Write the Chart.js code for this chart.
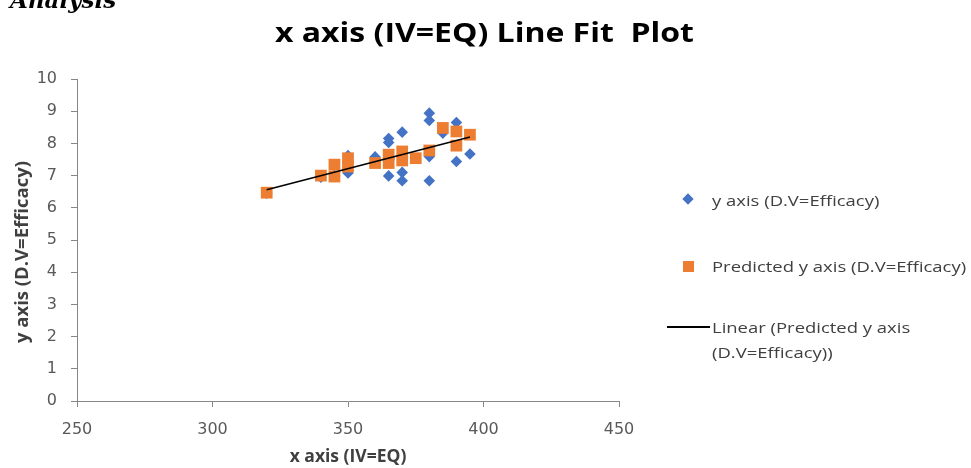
<!DOCTYPE html>
<html>
<head>
<meta charset="utf-8">
<script src="https://cdn.jsdelivr.net/npm/chart.js@4.4.1/dist/chart.umd.min.js"></script>
<style>
  body { margin: 0; background: #fff; }
  #page { position: relative; width: 971px; height: 468px; overflow: hidden; background: #fff; }
  #wrap { position: absolute; left: 0; top: 0; width: 971px; height: 468px; }
  .txt { position: absolute; white-space: nowrap; }
  #analysis { left: 10px; top: -12px; font: italic bold 23px/23px 'DejaVu Serif'; color: #000; }
  #title { left: 275px; top: 14px; font: bold 26px/36px 'Open Sans'; color: #000; transform: scaleX(1.23); transform-origin: left center; }
  .leg { font: 15px/20px 'Open Sans'; color: #404040; left: 712px; transform: scaleX(1.23); transform-origin: left center; }
  #diamond { position: absolute; left: 684px; top: 195px; width: 8px; height: 8px; background: #4472c4; transform: rotate(45deg); }
  #square { position: absolute; left: 683px; top: 261px; width: 11px; height: 11px; background: #ed7d31; }
  #lineSym { position: absolute; left: 667px; top: 326px; width: 43px; height: 1.5px; background: #000; }
</style>
</head>
<body>
<div id="page">
  <div id="wrap"><canvas id="chart"></canvas></div>
  <div class="txt" id="analysis">Analysis</div>
  <div class="txt" id="title">x axis (IV=EQ) Line Fit&nbsp; Plot</div>
  <div id="diamond"></div>
  <div class="txt leg" style="top:190px">y axis (D.V=Efficacy)</div>
  <div id="square"></div>
  <div class="txt leg" style="top:256px">Predicted y axis (D.V=Efficacy)</div>
  <div id="lineSym"></div>
  <div class="txt leg" style="top:317px">Linear (Predicted y axis</div>
  <div class="txt leg" style="top:342px">(D.V=Efficacy))</div>
</div>
<script>
// observed efficacy vs EQ
const eqActual = [380, 380, 380, 380, 370, 370, 370, 365, 365, 365, 390, 390, 385, 395, 360, 350, 350, 345, 340, 320];
const efficacyActual = [8.94, 8.71, 7.59, 6.84, 8.35, 7.10, 6.84, 8.15, 8.03, 6.99, 8.65, 7.44, 8.32, 7.67, 7.58, 7.62, 7.08, 7.00, 6.95, 6.45];

// predicted efficacy
const eqPredicted = [320, 340, 345, 345, 350, 350, 360, 365, 365, 370, 370, 375, 380, 385, 390, 390, 395];
const efficacyPredicted = [6.47, 7.00, 7.34, 6.97, 7.54, 7.28, 7.39, 7.65, 7.39, 7.75, 7.47, 7.54, 7.78, 8.48, 8.37, 7.93, 8.27];

// linear trendline ends
const trendEq = [320, 395];
const trendEfficacy = [6.56, 8.20];

const xTicks = [250, 300, 350, 400, 450];
const yTicks = [0, 1, 2, 3, 4, 5, 6, 7, 8, 9, 10];

const toPoints = (xs, ys) => xs.map((x, i) => ({ x, y: ys[i] }));

const axisGrey = '#868686';
const labelGrey = '#595959';

new Chart(document.getElementById('chart'), {
  type: 'scatter',
  data: {
    datasets: [
      {
        label: 'Linear (Predicted y axis (D.V=Efficacy))',
        type: 'line',
        data: toPoints(trendEq, trendEfficacy),
        borderColor: '#000',
        borderWidth: 1.5,
        pointRadius: 0,
        fill: false,
        order: 0,
      },
      {
        label: 'Predicted y axis (D.V=Efficacy)',
        data: toPoints(eqPredicted, efficacyPredicted),
        pointStyle: 'rect',
        pointRadius: 8.3,
        backgroundColor: '#ed7d31',
        borderWidth: 0,
        order: 1,
      },
      {
        label: 'y axis (D.V=Efficacy)',
        data: toPoints(eqActual, efficacyActual),
        pointStyle: 'rectRot',
        pointRadius: 5.8,
        backgroundColor: '#4472c4',
        borderWidth: 0,
        order: 2,
      },
    ],
  },
  options: {
    responsive: true,
    maintainAspectRatio: false,
    animation: false,
    layout: { padding: { top: 79, right: 352, left: 0, bottom: 0 } },
    plugins: { legend: { display: false }, tooltip: { enabled: false } },
    scales: {
      x: {
        type: 'linear',
        min: 250,
        max: 450,
        afterBuildTicks: (scale) => { scale.ticks = xTicks.map(v => ({ value: v })) },
        afterFit: (scale) => { scale.height = 67 },
        ticks: { color: labelGrey, font: { family: 'DejaVu Sans', size: 16 }, padding: 13 },
        grid: { drawOnChartArea: false, drawTicks: true, tickLength: 6, color: axisGrey },
        border: { color: axisGrey, width: 1 },
        title: {
          display: true,
          text: 'x axis (IV=EQ)',
          color: '#404040',
          font: { family: 'Open Sans', size: 17.5, weight: 'bold' },
          padding: { top: 0, bottom: 0 },
        },
      },
      y: {
        type: 'linear',
        min: 0,
        max: 10,
        afterBuildTicks: (scale) => { scale.ticks = yTicks.map(v => ({ value: v })) },
        afterFit: (scale) => { scale.width = 77 },
        ticks: { color: labelGrey, font: { family: 'DejaVu Sans', size: 16 }, padding: 14 },
        grid: { drawOnChartArea: false, drawTicks: true, tickLength: 6, color: axisGrey },
        border: { color: axisGrey, width: 1 },
        title: {
          display: true,
          text: 'y axis (D.V=Efficacy)     ',
          color: '#404040',
          font: { family: 'Open Sans', size: 18.5, weight: 'bold' },
          padding: { top: 12, bottom: 0 },
        },
      },
    },
  },
});
</script>
</body>
</html>
